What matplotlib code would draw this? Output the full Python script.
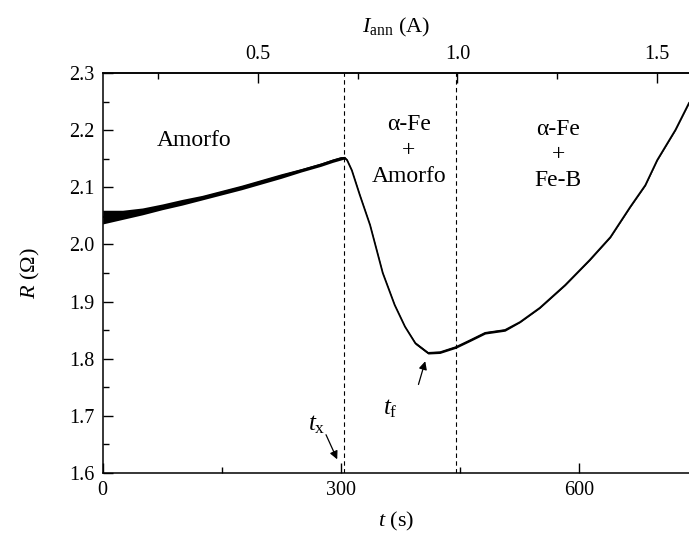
import numpy as np
import matplotlib.pyplot as plt
from matplotlib.ticker import MultipleLocator, FixedLocator

plt.rcParams['font.family'] = 'Liberation Serif'
plt.rcParams['mathtext.fontset'] = 'custom'
plt.rcParams['mathtext.rm'] = 'Liberation Serif'
plt.rcParams['mathtext.it'] = 'Liberation Serif:italic'
plt.rcParams['font.size'] = 14.5

# R(t)
t_s = [0, 25, 50, 75, 100, 125, 150, 175, 200, 225, 250, 275, 290, 300, 305,
       308, 314, 324, 337, 353, 368, 381, 394, 410, 425, 445, 463, 482, 507,
       526, 551, 583, 614, 640, 665, 684, 699, 722, 739]
R_ohm = [2.048, 2.052, 2.058, 2.066, 2.074, 2.082, 2.091, 2.100, 2.110, 2.120,
         2.130, 2.140, 2.147, 2.151, 2.152,
         2.148, 2.130, 2.087, 2.034, 1.950, 1.894, 1.856, 1.827, 1.810, 1.811,
         1.820, 1.832, 1.845, 1.850, 1.864, 1.889, 1.929, 1.973, 2.013, 2.066,
         2.104, 2.148, 2.201, 2.248]
# half width of the noisy band
R_spread = [0.012, 0.008, 0.006, 0.005, 0.005, 0.004, 0.004, 0.004, 0.004, 0.004,
            0.003, 0.003, 0.003, 0.003, 0.002,
            0.001, 0.001, 0.001, 0.001, 0.001, 0.001, 0.001, 0.002, 0.002, 0.002,
            0.002, 0.002, 0.002, 0.002, 0.001, 0.001, 0.001, 0.001, 0.001, 0.001,
            0.001, 0.001, 0.001, 0.001]

t_x, t_2 = 304, 445.5
I_0, I_slope = 0.1114, 1 / 503.1   # I_ann = I_0 + I_slope * t

t_s = np.array(t_s)
R_ohm = np.array(R_ohm)
R_spread = np.array(R_spread)

fig = plt.figure(figsize=(6.89, 5.36), dpi=100)
ax = fig.add_axes([0.1491, 0.1181, 0.8509, 0.7451])

ax.fill_between(t_s, R_ohm - R_spread, R_ohm + R_spread, color='black', lw=0)
ax.plot(t_s, R_ohm, color='black', lw=1.3)

ax.axvline(t_x, color='black', lw=0.8, dashes=(4, 3))
ax.axvline(t_2, color='black', lw=0.8, dashes=(4, 3))

ax.set_xlim(0, 739)
ax.set_ylim(1.6, 2.3)
ax.xaxis.set_major_locator(MultipleLocator(300))
ax.xaxis.set_minor_locator(MultipleLocator(150))
ax.yaxis.set_major_locator(MultipleLocator(0.1))
ax.yaxis.set_minor_locator(MultipleLocator(0.05))
ax.yaxis.set_major_formatter(plt.FormatStrFormatter('%.1f'))
ax.tick_params(which='both', direction='in', width=1.0, pad=6)
ax.tick_params(which='major', length=7)
ax.tick_params(which='minor', length=4)
ax.tick_params(axis='x', top=False)
ax.spines['right'].set_visible(False)
for s in ['left', 'bottom', 'top']:
    ax.spines[s].set_linewidth(1.1)

ax.set_xlabel(r'$t$ (s)', fontsize=16)
ax.set_ylabel(r'$R$ (Ω)', fontsize=16)
ax.xaxis.set_label_coords(0.5, -0.093)
ax.yaxis.set_label_coords(-0.1035, 0.5)

top = ax.secondary_xaxis('top', functions=(lambda t: I_0 + I_slope * t,
                                           lambda i: (i - I_0) / I_slope))
top.xaxis.set_major_locator(FixedLocator([0.5, 1.0, 1.5]))
top.xaxis.set_minor_locator(FixedLocator([0.25, 0.75, 1.25]))
top.xaxis.set_major_formatter(plt.FormatStrFormatter('%.1f'))
top.tick_params(which='both', direction='in', width=1.0, pad=7)
top.tick_params(which='major', length=7)
top.tick_params(which='minor', length=4)
top.spines['top'].set_linewidth(1.1)
top.set_xlabel(r'$I_{\mathrm{ann}}$ (A)', fontsize=16, labelpad=9)

ax.text(115, 2.183, 'Amorfo', ha='center', va='center', fontsize=17)
ax.text(386, 2.165, 'α-Fe\n+\nAmorfo', ha='center', va='center', fontsize=17,
        linespacing=1.3)
ax.text(574, 2.157, 'α-Fe\n+\nFe-B', ha='center', va='center', fontsize=17,
        linespacing=1.3)

ax.annotate('', xy=(297, 1.619), xytext=(280, 1.671),
            arrowprops=dict(arrowstyle='-|>', color='black', lw=0.9,
                            mutation_scale=12))
ax.text(270, 1.685, r'$t_{\mathrm{x}}$', ha='center', va='center', fontsize=18)
ax.annotate('', xy=(407.5, 1.800), xytext=(397, 1.750),
            arrowprops=dict(arrowstyle='-|>', color='black', lw=0.9,
                            mutation_scale=12))
ax.text(362, 1.712, r'$t_{\mathrm{f}}$', ha='center', va='center', fontsize=18)

fig.savefig('out.png', dpi=100)
